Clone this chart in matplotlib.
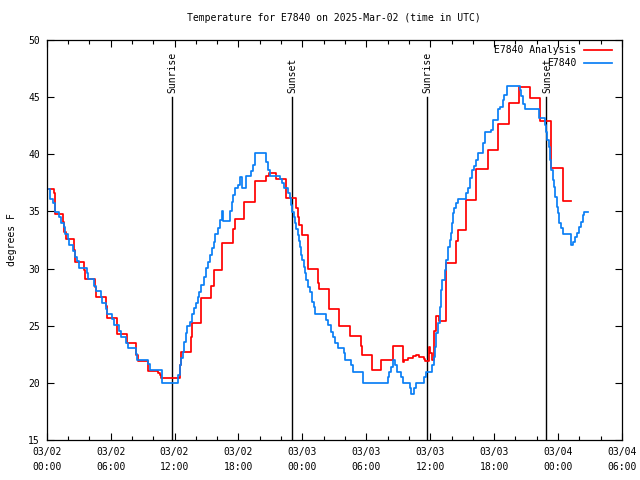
import matplotlib
matplotlib.use("Agg")
import matplotlib.pyplot as plt
from matplotlib.ticker import MultipleLocator
import numpy as np

# ---- data (hours since 2025-03-02 00:00 UTC, degrees F) ----
analysis_h = [0.18, 0.67, 0.8, 1.54, 1.62, 1.77, 2.6, 2.7, 3.54, 3.64, 4.57, 4.65, 5.6, 5.66,
              6.63, 7.53, 8.4, 8.59, 9.55, 10.45, 10.6, 10.74, 12.48, 12.6, 13.55, 13.64, 14.48,
              15.4, 15.66, 16.44, 17.47, 17.66, 18.53, 19.53, 20.6, 20.87, 21.55, 22.48, 23.42,
              23.55, 23.7, 23.92, 24.48, 24.55, 25.45, 25.57, 26.48, 27.47, 28.5, 29.47, 29.55,
              30.5, 31.37, 32.49, 33.42, 33.55, 33.93, 34.4, 34.7, 34.9, 35.43, 35.55, 35.86,
              36.0, 36.2, 36.36, 36.55, 36.8, 37.5, 38.4, 38.63, 39.38, 40.31, 41.4, 42.34,
              43.37, 44.36, 45.37, 46.3, 47.36, 48.42, 49.23]
analysis_t = [37.0, 36.6, 34.8, 34.1, 33.2, 32.6, 31.6, 30.6, 29.9, 29.1, 28.4, 27.5, 26.7, 25.7,
              24.3, 23.5, 22.4, 21.9, 21.0, 20.9, 20.7, 20.4, 21.6, 22.7, 24.0, 25.2, 27.4,
              28.5, 29.9, 32.2, 33.5, 34.3, 35.8, 37.7, 38.1, 38.4, 37.8, 36.2, 35.3,
              34.5, 33.8, 32.9, 31.5, 30.0, 28.7, 28.2, 26.5, 25.0, 24.1, 23.2, 22.4,
              21.1, 22.0, 23.2, 21.8, 22.0, 22.2, 22.35, 22.45, 22.25, 22.05, 21.9, 23.1,
              22.6, 22.0, 24.5, 25.85, 25.4, 30.5, 32.4, 33.4, 36.0, 38.7, 40.4, 42.65,
              44.45, 45.85, 44.9, 42.9, 38.8, 35.9, 35.9]

obs_h = [0.17, 0.30, 0.61, 0.74, 0.80, 1.17, 1.36, 1.61, 1.73, 2.01, 2.11, 2.48, 2.61, 2.85,
         3.04, 3.79, 3.85, 4.48, 4.60, 5.10, 5.22, 5.53, 5.66, 6.16, 6.35, 6.78, 6.97, 7.47,
         7.65, 8.34, 8.46, 9.52, 9.65, 10.80, 12.30, 12.48, 12.61, 12.80, 12.92, 13.05, 13.17,
         13.48, 13.67, 13.86, 13.98, 14.17, 14.32, 14.48, 14.73, 14.92, 15.10, 15.29, 15.48,
         15.66, 15.79, 16.04, 16.22, 16.41, 16.54, 17.16, 17.35, 17.53, 17.72, 17.91, 18.16,
         18.34, 18.72, 19.15, 19.34, 19.59, 20.56, 20.80, 20.93, 21.93, 22.11, 22.24, 22.61,
         22.80, 22.92, 23.05, 23.17, 23.30, 23.42, 23.55, 23.67, 23.80, 23.86, 23.98, 24.11,
         24.23, 24.36, 24.54, 24.73, 24.92, 25.11, 25.23, 26.23, 26.41, 26.66, 26.85, 27.10,
         27.35, 27.91, 28.04, 28.60, 28.72, 29.66, 32.02, 32.15, 32.34, 32.46, 32.71, 32.90,
         33.21, 33.40, 34.08, 34.21, 34.46, 34.64, 35.45, 35.58, 36.14, 36.32, 36.45, 36.57,
         36.76, 36.89, 37.01, 37.14, 37.38, 37.50, 37.70, 37.82, 37.95, 38.07, 38.13, 38.26,
         38.38, 38.63, 39.38, 39.50, 39.69, 39.88, 40.13, 40.31, 40.50, 40.94, 41.13, 41.75,
         41.87, 42.37, 42.56, 42.81, 42.93, 43.24, 44.40, 44.55, 44.75, 44.87, 46.17, 46.73,
         46.86, 46.98, 47.11, 47.23, 47.36, 47.48, 47.61, 47.73, 47.86, 47.98, 48.11, 48.23,
         48.42, 49.23, 49.41, 49.60, 49.79, 49.98, 50.16, 50.35, 50.47, 50.78]
obs_t = [37.0, 36.05, 35.76, 35.3, 34.97, 34.5, 34.0, 33.66, 33.0, 32.56, 32.06, 31.56, 31.04, 30.63,
         30.02, 29.6, 29.06, 28.47, 28.0, 27.5, 26.96, 26.5, 26.0, 25.56, 25.06, 24.54, 24.04, 23.5,
         23.02, 22.5, 22.0, 21.65, 21.1, 20.0, 20.7, 21.56, 22.14, 22.73, 23.6, 24.33, 25.0,
         25.35, 26.0, 26.52, 26.96, 27.54, 27.98, 28.56, 29.29, 30.02, 30.6, 31.19, 31.77,
         32.35, 33.0, 33.52, 34.25, 35.03, 34.16, 35.03, 35.85, 36.43, 37.02, 37.31, 38.01,
         37.07, 38.07, 38.53, 39.06, 40.08, 39.35, 38.62, 38.1, 37.81, 37.46, 37.02, 36.58,
         36.15, 35.56, 34.97, 34.48, 33.96, 33.43, 32.94, 32.44, 31.91, 31.19, 30.75, 30.16,
         29.58, 29.0, 28.41, 27.97, 27.1, 26.66, 26.02, 25.5, 25.06, 24.48, 24.04, 23.46,
         23.02, 22.58, 22.0, 21.56, 20.98, 19.96, 20.54, 20.98, 21.41, 22.0, 21.56, 20.98,
         20.54, 19.96, 19.52, 19.02, 19.52, 19.96, 20.54, 20.98, 21.56, 22.29, 23.16, 24.33,
         25.21, 26.66, 28.12, 29.0, 29.87, 30.75, 31.91, 32.5, 33.08, 33.96, 34.83, 35.27,
         35.71, 36.06, 36.58, 37.02, 37.9, 38.62, 38.97, 39.5, 40.14, 40.96, 41.97, 42.12,
         43.0, 43.93, 44.16, 44.75, 45.18, 45.97, 45.6, 45.1, 44.4, 44.0, 43.14, 42.56,
         41.97, 41.25, 40.66, 39.5, 38.62, 37.75, 37.16, 36.29, 35.41, 34.83, 33.96, 33.52,
         33.0, 32.06, 32.35, 32.73, 33.14, 33.66, 34.1, 34.69, 34.97, 34.97]

sun_h = [11.72, 23.0, 35.66, 46.9]
sun_labels = ["Sunrise", "Sunset", "Sunrise", "Sunset"]

xtick_h = [0, 6, 12, 18, 24, 30, 36, 42, 48, 54]
xtick_labels = ["03/02\n00:00", "03/02\n06:00", "03/02\n12:00", "03/02\n18:00",
                "03/03\n00:00", "03/03\n06:00", "03/03\n12:00", "03/03\n18:00",
                "03/04\n00:00", "03/04\n06:00"]
yticks = [15, 20, 25, 30, 35, 40, 45, 50]

series_names = ["E7840 Analysis", "E7840"]
series_colors = ["#ff0000", "#0a7ff5"]

# ---- plot ----
FONT = "DejaVu Sans Mono"
FS = 7
plt.rcParams['font.family'] = [FONT]

fig = plt.figure(figsize=(6.4, 4.8), dpi=100)
ax = fig.add_axes([46.7 / 640, 40 / 480, (622 - 46.7) / 640, 400 / 480])

ax.plot(analysis_h, analysis_t, drawstyle="steps-post", color=series_colors[0], lw=1.25, zorder=3)
ax.plot(obs_h, obs_t, drawstyle="steps-post", color=series_colors[1], lw=1.25, zorder=4)

for h, lab in zip(sun_h, sun_labels):
    ax.plot([h, h], [15, 45], color="black", lw=1.0, zorder=2)
    ax.text(h + 0.1, 45.4, lab, rotation=90, ha="center", va="bottom", fontsize=FS,
            family=FONT, zorder=5)

ax.set_xlim(0, 54)
ax.set_ylim(15, 50)
ax.set_xticks(xtick_h)
ax.set_xticklabels(xtick_labels, fontsize=FS, family=FONT, linespacing=1.6)
ax.xaxis.set_minor_locator(MultipleLocator(2))
ax.set_yticks(yticks)
ax.set_yticklabels([str(v) for v in yticks], fontsize=FS, family=FONT)
ax.tick_params(axis="both", which="major", direction="in", length=5, width=0.8,
               top=True, right=True, pad=5)
ax.tick_params(axis="both", which="minor", direction="in", length=3, width=0.8,
               top=True, right=True)
for s in ax.spines.values():
    s.set_linewidth(0.9)

ax.set_ylabel("degrees F", fontsize=FS, family=FONT, labelpad=8)
ax.set_title("Temperature for E7840 on 2025-Mar-02 (time in UTC)", fontsize=FS,
             family=FONT, pad=14)

# legend (gnuplot style: text right-aligned, sample line to the right)
leg_y = [0.975, 0.9425]
for name, col, yy in zip(series_names, series_colors, leg_y):
    ax.text(0.921, yy, name, transform=ax.transAxes, ha="right", va="center",
            fontsize=FS, family=FONT, zorder=6)
    ax.plot([0.934, 0.982], [yy, yy], transform=ax.transAxes, color=col, lw=1.25,
            clip_on=False, zorder=6)

fig.savefig("out.png", dpi=100)
